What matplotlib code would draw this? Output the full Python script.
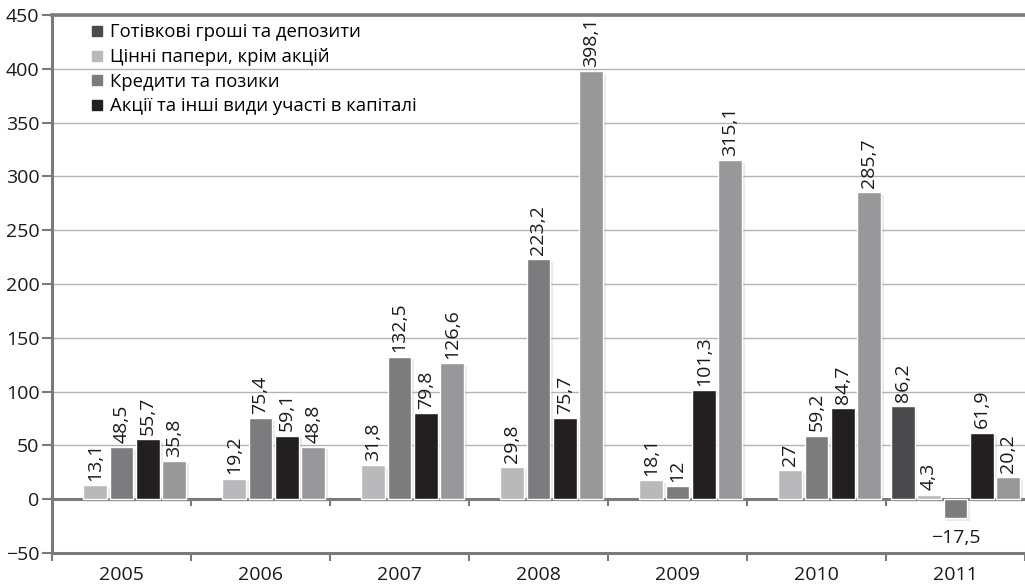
import numpy as np
import matplotlib
matplotlib.use("Agg")
import matplotlib.pyplot as plt
from matplotlib.lines import Line2D
import matplotlib.patheffects as pe

plt.rcParams['font.family'] = ['Open Sans', 'DejaVu Sans']

years = ['2005', '2006', '2007', '2008', '2009', '2010', '2011']

# Series values (None = no bar for that year)
cash_deposits = [None, None, None, None, None, None, 86.2]
securities = [13.1, 19.2, 31.8, 29.8, 18.1, 27, 4.3]
loans = [48.5, 75.4, 132.5, 223.2, 12, 59.2, -17.5]
equity = [55.7, 59.1, 79.8, 75.7, 101.3, 84.7, 61.9]
other = [35.8, 48.8, 126.6, 398.1, 315.1, 285.7, 20.2]

legend_labels = ['Готівкові гроші та депозити',
                 'Цінні папери, крім акцій',
                 'Кредити та позики',
                 'Акції та інші види участі в капіталі']

series = [cash_deposits, securities, loans, equity, other]
colors = ['#4a4a4c', '#b9b9bb', '#7c7c7f', '#231f20', '#98989b']

FS_LEG = 13.3
FS_TICK = 14
FS_VAL = 14

fig = plt.figure(figsize=(10.25, 5.85), dpi=100)
ax = fig.add_axes([52 / 1025, 1 - 553 / 585, 1 - 52 / 1025, (553 - 15) / 585])

x = np.arange(len(years))
slot = 0.19
width = 0.172
offsets = (np.arange(len(series)) - 2) * slot

shadow = [pe.SimplePatchShadow(offset=(2, -2), shadow_rgbFace='#a0a0a0', alpha=0.22), pe.Normal()]

def fmt(v):
    s = f"{v:g}".replace('.', ',')
    return s.replace('-', '\u2212')

for vals, col, off in zip(series, colors, offsets):
    for xi, v in zip(x, vals):
        if v is None:
            continue
        b = ax.bar(xi + off, v, width=width, color=col, edgecolor='white',
                   linewidth=1.0, zorder=3)
        b[0].set_path_effects(shadow)
        if v >= 0:
            ax.annotate(fmt(v), (xi + off, v), xytext=(0, 3), textcoords='offset points',
                        rotation=90, ha='center', va='bottom', fontsize=FS_VAL,
                        color='#1a1a1a', zorder=4)
        else:
            ax.annotate(fmt(v), (xi + off, v), xytext=(0, -8), textcoords='offset points',
                        ha='center', va='top', fontsize=FS_VAL, color='#1a1a1a', zorder=4)

ax.set_xlim(-0.5, 6.5)
ax.set_ylim(-50, 450)
yt = np.arange(-50, 451, 50)
ax.set_yticks(yt)
ax.set_yticklabels([fmt(v) for v in yt], fontsize=FS_TICK, color='#1a1a1a')

ax.yaxis.grid(True, color='#b4b4b4', linewidth=1.0, zorder=0)
ax.set_axisbelow(True)
ax.axhline(0, color='#7a7a7a', linewidth=2.2, zorder=2)
ax.axhline(450, color='#7a7a7a', linewidth=2.6, zorder=2, clip_on=False)

# category boundary ticks on the zero line
for b in np.arange(0.5, 6.5, 1):
    ax.plot([b, b], [0, -5], color='#7a7a7a', linewidth=1.5, zorder=2)

ax.set_xticks(np.arange(-0.5, 6.6, 1))
ax.set_xticklabels([])
ax.set_xticks(x, minor=True)
ax.set_xticklabels(years, minor=True, fontsize=FS_TICK, color='#1a1a1a')
ax.tick_params(axis='x', which='minor', length=0, pad=9)
ax.tick_params(axis='x', which='major', length=6, width=1.5, color='#7a7a7a')
ax.tick_params(axis='y', length=7, width=1.5, color='#7a7a7a', pad=2)

for s in ['top', 'right']:
    ax.spines[s].set_visible(False)
for s in ['left', 'bottom']:
    ax.spines[s].set_color('#7a7a7a')
    ax.spines[s].set_linewidth(2.2)

handles = [Line2D([], [], marker='s', linestyle='none', markersize=7.5,
                  markerfacecolor=c, markeredgecolor=c) for c in colors[:4]]
ax.legend(handles, legend_labels, loc='upper left', bbox_to_anchor=(0.033, 0.998),
          frameon=False, fontsize=FS_LEG, handlelength=0.6, handletextpad=0.4,
          labelspacing=0.36, borderaxespad=0)

fig.savefig('out.png', dpi=100, facecolor='white')
